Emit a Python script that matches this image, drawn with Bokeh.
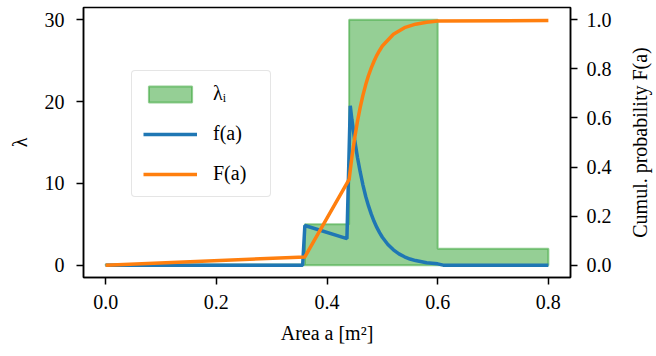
from bokeh.plotting import figure
from bokeh.layouts import row
from bokeh.models import (Range1d, LinearAxis, FixedTicker, PrintfTickFormatter,
                          Legend, LegendItem)
from bokeh.embed import file_html
from bokeh.resources import INLINE

# ---------------- data ----------------
lam_edges = [0.0, 0.36, 0.44, 0.60, 0.80]
lam_values = [0.1, 5.0, 30.0, 2.0]

f_x = [0.0, 0.356, 0.36, 0.436, 0.442, 0.445, 0.45, 0.455, 0.46, 0.465, 0.47,
       0.475, 0.48, 0.485, 0.49, 0.495, 0.50, 0.51, 0.52, 0.53, 0.54, 0.55,
       0.56, 0.58, 0.60, 0.61, 0.80]
f_y = [0.0, 0.0, 4.85, 3.25, 19.5, 17.8, 15.3, 13.2, 11.4, 9.8, 8.4,
       7.25, 6.24, 5.37, 4.62, 3.98, 3.42, 2.54, 1.88, 1.39, 1.03, 0.76,
       0.57, 0.31, 0.17, 0.01, 0.01]

F_x = [0.0, 0.36, 0.44, 0.445, 0.45, 0.455, 0.46, 0.465, 0.47, 0.475, 0.48,
       0.485, 0.49, 0.495, 0.50, 0.52, 0.54, 0.56, 0.58, 0.60, 0.80]
F_y = [0.0, 0.034, 0.35, 0.441, 0.518, 0.586, 0.643, 0.693, 0.736, 0.773, 0.804,
       0.831, 0.855, 0.875, 0.893, 0.941, 0.968, 0.982, 0.990, 0.995, 0.997]

x_ticks = [0.0, 0.2, 0.4, 0.6, 0.8]
y_ticks = [0, 10, 20, 30]
p_ticks = [0.0, 0.2, 0.4, 0.6, 0.8, 1.0]

labels = ["λᵢ", "f(a)", "F(a)"]
x_label = "Area a [m²]"
y_label = "λ"
p_label = "Cumul. probability F(a)"

# ---------------- styling ----------------
FONT = "Liberation Serif"
FS = "20px"
GREEN = "#2ca02c"
BLUE = "#1f77b4"
ORANGE = "#ff7f0e"

p = figure(width=616, height=356, output_backend="svg", toolbar_location=None,
           x_range=Range1d(-0.04, 0.84), y_range=Range1d(-1.5, 31.5),
           min_border_left=83, min_border_right=46, min_border_top=7,
           min_border_bottom=73)
p.extra_y_ranges = {"cum": Range1d(-0.05, 1.05)}
p.grid.visible = False
p.outline_line_color = "black"
p.outline_line_width = 1.5
p.background_fill_color = "white"
p.border_fill_color = "white"

right_axis = LinearAxis(y_range_name="cum")
p.add_layout(right_axis, "right")

p.xaxis.ticker = FixedTicker(ticks=x_ticks)
p.xaxis.formatter = PrintfTickFormatter(format="%.1f")
p.yaxis[0].ticker = FixedTicker(ticks=y_ticks)
right_axis.ticker = FixedTicker(ticks=p_ticks)
right_axis.formatter = PrintfTickFormatter(format="%.1f")

p.xaxis.axis_label = x_label
p.yaxis[0].axis_label = y_label


def style_axis(ax):
    ax.axis_line_color = "black"
    ax.axis_line_width = 1.5
    ax.major_tick_line_color = "black"
    ax.major_tick_line_width = 1.5
    ax.major_tick_out = 7
    ax.major_tick_in = 0
    ax.minor_tick_line_color = None
    ax.major_label_text_font = FONT
    ax.major_label_text_font_size = FS
    ax.major_label_text_color = "black"
    ax.axis_label_text_font = FONT
    ax.axis_label_text_font_size = FS
    ax.axis_label_text_font_style = "normal"
    ax.axis_label_text_color = "black"


for ax in [p.xaxis[0], p.yaxis[0], right_axis]:
    style_axis(ax)
p.xaxis.major_label_standoff = 10
p.xaxis.axis_label_standoff = 10
p.yaxis[0].major_label_standoff = 12
p.yaxis[0].axis_label_standoff = 11
right_axis.major_label_standoff = 9

# ---------------- glyphs ----------------
poly_x = [lam_edges[0]]
poly_y = [0.0]
for i, v in enumerate(lam_values):
    poly_x += [lam_edges[i], lam_edges[i + 1]]
    poly_y += [v, v]
poly_x.append(lam_edges[-1])
poly_y.append(0.0)

r_lam = p.patch(poly_x, poly_y, fill_color=GREEN, fill_alpha=0.5,
                line_color=GREEN, line_alpha=0.5, line_width=2)
r_f = p.line(f_x, f_y, line_color=BLUE, line_width=3.5)
r_F = p.line(F_x, F_y, line_color=ORANGE, line_width=3.5, y_range_name="cum")

legend = Legend(items=[LegendItem(label=labels[0], renderers=[r_lam]),
                       LegendItem(label=labels[1], renderers=[r_f]),
                       LegendItem(label=labels[2], renderers=[r_F])],
                location=(48, 80))
legend.label_text_font = FONT
legend.label_text_font_size = "20px"
legend.label_text_color = "black"
legend.glyph_width = 54
legend.glyph_height = 20
legend.label_standoff = 16
legend.label_width = 46
legend.padding = 11
legend.spacing = 17
legend.margin = 0
legend.border_line_color = "#cccccc"
legend.border_line_width = 1.5
legend.background_fill_alpha = 0.8
if "border_radius" in legend.properties():
    legend.border_radius = 4
p.add_layout(legend, "center")

# ---------------- right-hand title (reads bottom-to-top) ----------------
p2 = figure(width=38, height=356, output_backend="svg", toolbar_location=None,
            x_axis_location=None, x_range=Range1d(0, 1),
            y_range=Range1d(-0.05, 1.05),
            min_border_left=34, min_border_right=0, min_border_top=7,
            min_border_bottom=79)
p2.grid.visible = False
p2.outline_line_color = None
p2.background_fill_color = "white"
p2.border_fill_color = "white"
t_ax = p2.yaxis[0]
style_axis(t_ax)
t_ax.ticker = FixedTicker(ticks=[])
t_ax.axis_line_color = None
t_ax.major_tick_line_color = None
t_ax.major_tick_out = 0
t_ax.major_label_standoff = 0
t_ax.axis_label = p_label
t_ax.axis_label_standoff = 0

layout = row(p, p2)
open("out.html", "w").write(file_html(layout, INLINE))
